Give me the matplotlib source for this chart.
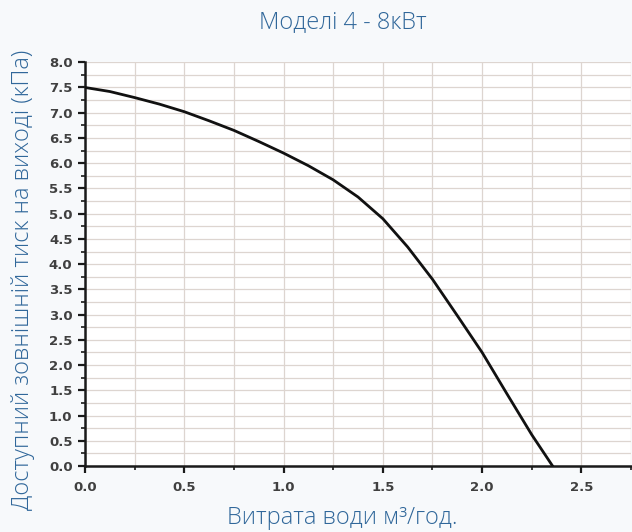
import matplotlib.pyplot as plt
import numpy as np
from matplotlib.ticker import MultipleLocator

plt.rcParams['font.family'] = ['Open Sans', 'DejaVu Sans']

# Data
flow = [0.0, 0.125, 0.25, 0.375, 0.5, 0.625, 0.75, 0.875, 1.0, 1.125,
        1.25, 1.375, 1.5, 1.625, 1.75, 1.875, 2.0, 2.125, 2.25, 2.355]
pressure = [7.5, 7.42, 7.30, 7.17, 7.02, 6.84, 6.65, 6.43, 6.20, 5.95,
            5.67, 5.33, 4.90, 4.34, 3.70, 2.98, 2.25, 1.43, 0.62, 0.0]

title_txt = 'Моделі 4 - 8кВт'
xlabel_txt = 'Витрата води м³/год.'
ylabel_txt = 'Доступний зовнішній тиск на виході (кПа)'

blue = '#30679a'

fig = plt.figure(figsize=(6.32, 5.32), dpi=100, facecolor='#f7f9fb')
ax = fig.add_axes([0.1345, 0.124, 0.864, 0.759])
ax.set_facecolor('white')

ax.plot(flow, pressure, color='#111111', lw=2.0, zorder=3)

ax.set_xlim(0, 2.75)
ax.set_ylim(0, 8.0)
ax.xaxis.set_major_locator(MultipleLocator(0.5))
ax.xaxis.set_minor_locator(MultipleLocator(0.25))
ax.yaxis.set_major_locator(MultipleLocator(0.5))
ax.yaxis.set_minor_locator(MultipleLocator(0.25))
ax.xaxis.set_major_formatter(lambda v, p: f'{v:.1f}')
ax.yaxis.set_major_formatter(lambda v, p: f'{v:.1f}')

ax.grid(which='both', color='#ddd5d0', lw=0.9)
ax.set_axisbelow(True)

for s in ['top', 'right']:
    ax.spines[s].set_visible(False)
for s in ['left', 'bottom']:
    ax.spines[s].set_linewidth(1.8)
    ax.spines[s].set_color('#1a1a1a')

ax.tick_params(which='major', length=5, width=1.6, color='#1a1a1a')
ax.tick_params(axis='x', which='major', pad=6)
ax.tick_params(axis='y', which='major', pad=4)
ax.tick_params(which='minor', length=3, width=1.2, color='#1a1a1a')
for lab in ax.get_xticklabels() + ax.get_yticklabels():
    lab.set_fontfamily('DejaVu Sans')
    lab.set_fontweight('bold')
    lab.set_fontsize(9.5)
    lab.set_color('#404040')

fig.text(343 / 632, 1 - 22 / 532, title_txt, ha='center', va='center',
         fontsize=17, color=blue, fontweight='light')
fig.text(342 / 632, 1 - 518 / 532, xlabel_txt, ha='center', va='center',
         fontsize=17, color=blue, fontweight='light')
fig.text(23 / 632, 1 - 280 / 532, ylabel_txt, ha='center', va='center',
         rotation=90, fontsize=17, color=blue, fontweight='light')

fig.savefig('out.png', dpi=100, facecolor=fig.get_facecolor())
